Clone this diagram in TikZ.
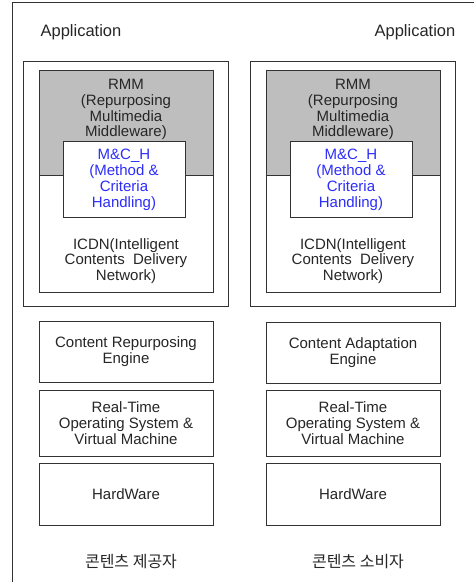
\documentclass[tikz,border=0pt]{standalone}
\usepackage{fontspec}
\setmainfont{Liberation Sans}
\newfontfamily\kofont{Noto Sans CJK KR}
\usetikzlibrary{positioning}
\definecolor{mcblue}{RGB}{45,45,250}
\definecolor{rmmgray}{RGB}{190,190,190}
\definecolor{linegray}{RGB}{50,50,50}

\begin{document}
\begin{tikzpicture}[
  x=1pt, y=-1pt,
  frame/.style={draw=linegray, line width=0.9pt},
  stackbox/.style={draw=linegray, line width=0.9pt, minimum width=205pt, minimum height=245pt,
                   inner sep=0pt},
  layerbox/.style={draw=linegray, line width=0.9pt, minimum width=174pt, inner sep=0pt,
                   fill=white},
  mcbox/.style={draw=linegray, line width=0.9pt, minimum width=122pt, minimum height=76pt,
                fill=white, inner sep=0pt},
  txt/.style={align=center, font=\fontsize{15}{15.8}\selectfont, text=black!85, inner sep=0pt},
  mctxt/.style={txt, text=mcblue},
  apptxt/.style={font=\fontsize{16.5}{18}\selectfont, text=black!85, inner sep=0pt},
  kotxt/.style={font=\kofont\fontsize{16}{18}\selectfont, text=black!85, inner sep=0pt},
]
\useasboundingbox (0,0) rectangle (474,582);

% outer frame (cut off right and bottom)
\draw[frame] (12,582) -- (12,2.5) -- (474,2.5);

% Application labels
\node[apptxt] (appL) at (81,32) {Application};
\node[apptxt] (appR) at (415,32) {Application};

% Left side: provider
\node[stackbox] (stackL) at (125.5,183.5) {};
\node[layerbox, minimum height=117pt] (icdnL) at (126,233.5) {};
\node[layerbox, minimum height=105pt, fill=rmmgray] (rmmL) at (126,122.5) {};
\node[txt] at (126,109.5) {RMM\\(Repurposing\\Multimedia\\Middleware)};
\node[mcbox] (mchL) at (124,179) {};
\node[mctxt] at (124,180) {M\&C\_H\\(Method \&\\Criteria\\Handling)};
\node[txt] at (126,261) {ICDN(Intelligent\\Contents\ \ Delivery\\Network)};

\node[layerbox, minimum height=61pt, txt] (creL) at (126,351.5) {Content Repurposing\\Engine};
\node[layerbox, minimum height=66pt, txt] (rtosL) at (126,423) {Real-Time\\Operating System \&\\Virtual Machine};
\node[layerbox, minimum height=62pt, txt] (hwL) at (126,494) {HardWare};
\node[kotxt] (provider) at (131,562) {콘텐츠 제공자};

% Right side: consumer
\node[stackbox] (stackR) at (352.5,183.5) {};
\node[layerbox, minimum height=117pt] (icdnR) at (353,233.5) {};
\node[layerbox, minimum height=105pt, fill=rmmgray] (rmmR) at (353,122.5) {};
\node[txt] at (353,109.5) {RMM\\(Repurposing\\Multimedia\\Middleware)};
\node[mcbox] (mchR) at (351,179) {};
\node[mctxt] at (351,180) {M\&C\_H\\(Method \&\\Criteria\\Handling)};
\node[txt] at (353,261) {ICDN(Intelligent\\Contents\ \ Delivery\\Network)};

\node[layerbox, minimum height=61pt, txt] (caeR) at (353,352.5) {Content Adaptation\\Engine};
\node[layerbox, minimum height=66pt, txt] (rtosR) at (353,423) {Real-Time\\Operating System \&\\Virtual Machine};
\node[layerbox, minimum height=62pt, txt] (hwR) at (353,494) {HardWare};
\node[kotxt] (consumer) at (358,562) {콘텐츠 소비자};

\end{tikzpicture}
\end{document}
